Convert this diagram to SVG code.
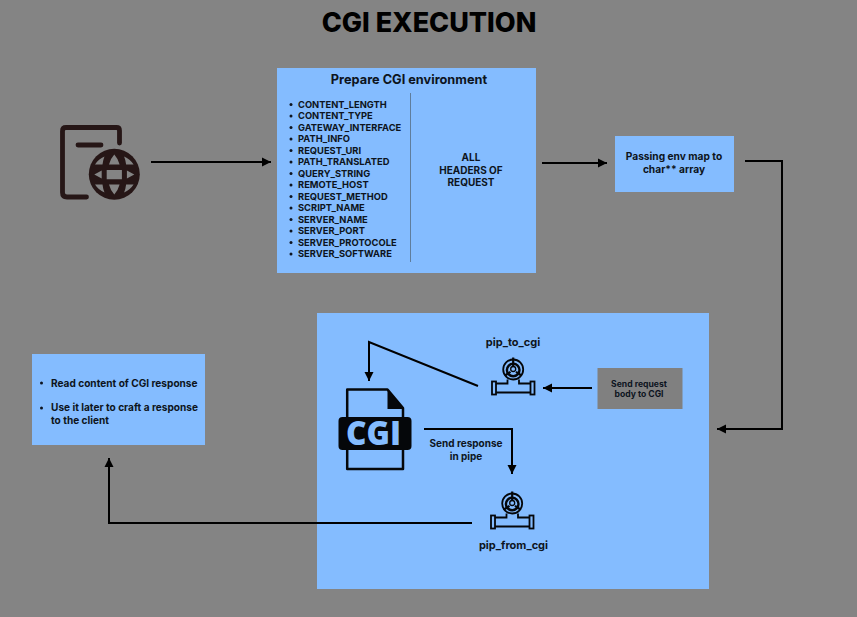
<svg xmlns="http://www.w3.org/2000/svg" width="857" height="617" viewBox="0 0 857 617">
<defs>
<marker id="arrow" markerUnits="userSpaceOnUse" markerWidth="10" markerHeight="10" refX="9" refY="5" orient="auto"><path d="M0 0.5L9 5L0 9.500Z" fill="#000"/></marker>
<g id="pipe" fill="none" stroke="#05070a" stroke-width="1.800">
<rect x="1" y="23.500" width="4" height="13"/><rect x="39.500" y="23.500" width="4" height="13"/>
<path d="M5 25.500H16.500V21.500M28 21.500V25.500H39.500M5 34.500H39.500"/>
<circle cx="22.200" cy="11.500" r="10" stroke-width="1.800"/>
<circle cx="22.200" cy="12" r="6.300" stroke-width="2.400"/>
<circle cx="22.200" cy="11" r="2.500" stroke-width="1.300"/>
<path d="M22.200 -0.500V8M14 17.500L19.500 13.800M30.400 17.500L25 13.800" stroke-width="2.200"/>
</g>
</defs>
<style>
text{font-family:Inter,"Liberation Sans",sans-serif;font-weight:700;fill:#0d1420}
.box{fill:#84bcff}
.dot{fill:#0d1420}
.c{stroke:#000;stroke-width:2;fill:none}
.a{marker-end:url(#arrow)}
.l{font-size:9.350px}
.m{font-size:10px;text-anchor:middle}
</style>
<rect width="857" height="617" fill="#848484"/>
<text id="title" x="429" y="32" font-size="27" text-anchor="middle" style="fill:#000;font-weight:800">CGI EXECUTION</text>

<g id="node-web-icon" fill="none" stroke="#261616" stroke-linecap="round">
<path d="M119.500 143V130.500Q119.500 127.500 116.500 127.500H66Q62.500 127.500 62.500 131V192.500Q62.500 197 67 197H86.500" stroke-width="4.800"/>
<path d="M78 145H101" stroke-width="4.800"/>
<circle cx="114.300" cy="174.300" r="25.500" fill="#261616" stroke="none"/>
<path stroke="none" fill="#848484" d="M114.300 154.500Q110.500 158.500 109 164.500H119.600Q118 158.500 114.300 154.500ZM104.500 156.500Q98.500 159 95 164.500H102.500Q103 160 104.500 156.500ZM124.100 156.500Q130 159 133.600 164.500H126.100Q125.600 160 124.100 156.500ZM94.300 174.500L101.700 170.500V178.500ZM134.300 174.500L126.900 170.500V178.500ZM106.700 170H121.900V179.300H106.700ZM114.300 194.500Q110.500 190.500 109 184.500H119.600Q118 190.500 114.300 194.500ZM104.500 192.500Q98.500 190 95 184.500H102.500Q103 189 104.500 192.500ZM124.100 192.500Q130 190 133.600 184.500H126.100Q125.600 189 124.100 192.500Z"/>
</g>

<g id="node-prepare-env">
<rect class="box" x="277" y="68" width="259" height="205"/>
<text x="409" y="84" font-size="12.750" text-anchor="middle">Prepare CGI environment</text>
<line x1="410.500" y1="93" x2="410.500" y2="262" stroke="#5f7d9c" stroke-width="1"/>
<g class="l">
<circle class="dot" cx="291" cy="104.500" r="1.500"/><text x="298" y="107.500">CONTENT_LENGTH</text>
<circle class="dot" cx="291" cy="116" r="1.500"/><text x="298" y="119">CONTENT_TYPE</text>
<circle class="dot" cx="291" cy="127.500" r="1.500"/><text x="298" y="130.500">GATEWAY_INTERFACE</text>
<circle class="dot" cx="291" cy="139" r="1.500"/><text x="298" y="142">PATH_INFO</text>
<circle class="dot" cx="291" cy="150.500" r="1.500"/><text x="298" y="153.500">REQUEST_URI</text>
<circle class="dot" cx="291" cy="162" r="1.500"/><text x="298" y="165">PATH_TRANSLATED</text>
<circle class="dot" cx="291" cy="173.500" r="1.500"/><text x="298" y="176.500">QUERY_STRING</text>
<circle class="dot" cx="291" cy="185" r="1.500"/><text x="298" y="188">REMOTE_HOST</text>
<circle class="dot" cx="291" cy="196.500" r="1.500"/><text x="298" y="199.500">REQUEST_METHOD</text>
<circle class="dot" cx="291" cy="208" r="1.500"/><text x="298" y="211">SCRIPT_NAME</text>
<circle class="dot" cx="291" cy="219.500" r="1.500"/><text x="298" y="222.500">SERVER_NAME</text>
<circle class="dot" cx="291" cy="231" r="1.500"/><text x="298" y="234">SERVER_PORT</text>
<circle class="dot" cx="291" cy="242.500" r="1.500"/><text x="298" y="245.500">SERVER_PROTOCOLE</text>
<circle class="dot" cx="291" cy="254" r="1.500"/><text x="298" y="257">SERVER_SOFTWARE</text>
</g>
<text class="m" x="471" y="161">ALL</text>
<text class="m" x="471" y="173.500">HEADERS OF</text>
<text class="m" x="471" y="186">REQUEST</text>
</g>

<g id="node-passing-env">
<rect class="box" x="615" y="136" width="119" height="56"/>
<text x="674" y="160" font-size="10.200" text-anchor="middle">Passing env map to</text>
<text x="674" y="172.500" font-size="10.200" text-anchor="middle">char** array</text>
</g>

<g id="node-cgi-exec">
<rect class="box" x="317" y="313" width="392" height="276"/>
<text x="513" y="346" font-size="11" text-anchor="middle">pip_to_cgi</text>
<text x="513.500" y="549" font-size="11" text-anchor="middle">pip_from_cgi</text>
<text class="m" x="466" y="446.500">Send response</text>
<text class="m" x="466" y="459.500">in pipe</text>
</g>

<g id="node-cgi-file">
<path d="M347.200 389.500H387.500L403 408V469H347.200Z" fill="none" stroke="#05070a" stroke-width="2.500" stroke-linejoin="round"/>
<path d="M387.500 389.500V409H403.500Z" fill="#05070a"/>
<rect x="338.500" y="417" width="73" height="33" rx="4" fill="#05070a"/>
<text x="346" y="445" font-size="33" textLength="55" lengthAdjust="spacingAndGlyphs" style="fill:#84bcff;font-family:'Open Sans','Liberation Sans',sans-serif;font-weight:800">CGI</text>
</g>

<g id="node-pip-to-cgi"><use href="#pipe" x="491" y="358"/></g>
<g id="node-pip-from-cgi"><use href="#pipe" x="490" y="492"/></g>

<g id="node-send-body">
<rect x="597.500" y="368" width="85" height="41" fill="#808080"/>
<text x="639" y="386.800" font-size="8.600" text-anchor="middle">Send request</text>
<text x="639" y="397" font-size="8.600" text-anchor="middle">body to CGI</text>
</g>

<g id="node-read-response">
<rect class="box" x="32" y="354" width="173" height="91"/>
<circle class="dot" cx="41.500" cy="383" r="1.500"/>
<text x="51" y="386.500" font-size="10.100">Read content of CGI response</text>
<circle class="dot" cx="41.500" cy="408" r="1.500"/>
<text x="51" y="411" font-size="10.100">Use it later to craft a response</text>
<text x="51" y="424" font-size="10.100">to the client</text>
</g>

<g id="connectors">
<path class="c a" d="M151 162H271"/>
<path class="c a" d="M542 163H607"/>
<path class="c a" d="M745 161H782V429H717"/>
<path class="c a" d="M478 386L369 342V381"/>
<path class="c a" d="M592 388H543"/>
<path class="c a" d="M424 429H512V474"/>
<path class="c a" d="M472 523H109V458"/>
</g>
</svg>
